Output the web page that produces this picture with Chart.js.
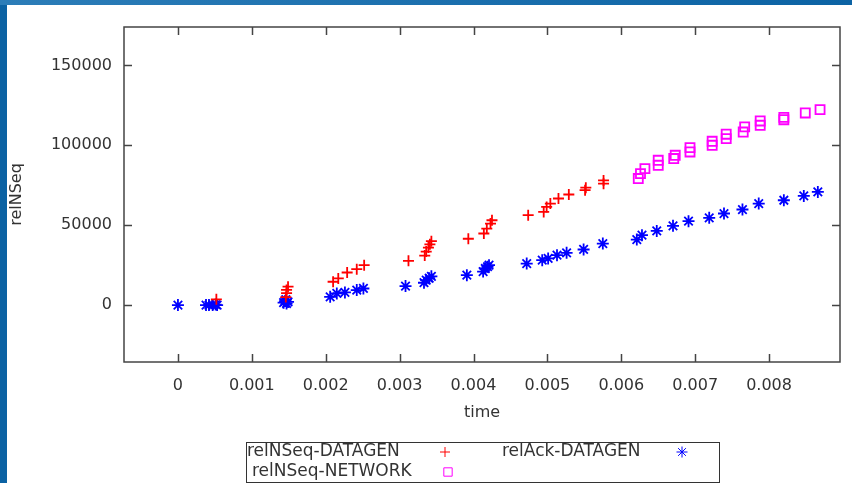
<!DOCTYPE html>
<html>
<head>
<meta charset="utf-8">
<script src="https://cdn.jsdelivr.net/npm/chart.js@4.4.1/dist/chart.umd.min.js"></script>
<style>
  html, body { margin: 0; padding: 0; }
  body {
    width: 852px; height: 483px; overflow: hidden; position: relative;
    background: linear-gradient(to right, #2c7db8, #0c63a4);
  }
  #wrap {
    position: absolute; left: 7px; top: 5px; width: 845px; height: 478px; background: #fff;
  }
  #wrap::before {
    content: ''; position: absolute; left: -7px; top: 0; width: 7px; height: 478px; background: #0b62a3;
  }
</style>
</head>
<body>
<div id="wrap"><canvas id="c" width="845" height="478"></canvas></div>
<script>
// relNSeq-DATAGEN
const seqTime = [0.00052, 0.00146, 0.00147, 0.00147, 0.00149, 0.00210, 0.00217, 0.00229, 0.00242, 0.00252,
  0.00312, 0.00334, 0.00336, 0.00339, 0.00341, 0.00343, 0.00393, 0.00414, 0.00418, 0.00423, 0.00425,
  0.00474, 0.00495, 0.00499, 0.00504, 0.00515, 0.00529, 0.00551, 0.00552, 0.00576, 0.00576];
const seqVal = [3600, 5000, 7500, 9500, 11500, 14600, 16700, 20400, 22500, 25000,
  27700, 31000, 33500, 36000, 38000, 40000, 41500, 44800, 47900, 51000, 53100,
  56250, 58300, 61400, 63500, 66700, 69200, 71900, 73500, 76000, 78000];

// relAck-DATAGEN
const ackTime = [0, 0.00038, 0.00042, 0.00047, 0.00051, 0.00053, 0.00143, 0.00145, 0.00146, 0.00147, 0.00149,
  0.00206, 0.00215, 0.00226, 0.00242, 0.00251, 0.00308, 0.00333, 0.00336, 0.00340, 0.00343,
  0.00391, 0.00413, 0.00416, 0.00419, 0.00421, 0.00472, 0.00493, 0.00501, 0.00513, 0.00526,
  0.00549, 0.00575, 0.00621, 0.00628, 0.00648, 0.00670, 0.00691, 0.00719, 0.00739, 0.00764,
  0.00786, 0.00820, 0.00847, 0.00866];
const ackVal = [0, 0, 0, 0, 300, 0, 1500, 2500, 3500, 1000, 2000,
  5200, 7300, 7900, 9400, 10400, 11900, 14000, 15600, 16800, 18000,
  18750, 21000, 22900, 24000, 25000, 26000, 28100, 29200, 31250, 32700,
  34800, 38500, 41000, 43750, 46400, 49600, 52500, 54600, 57300, 59800,
  63500, 65600, 68300, 70800];

// relNSeq-NETWORK
const netTime = [0.00623, 0.00626, 0.00632, 0.00650, 0.00650, 0.00671, 0.00673, 0.00693, 0.00693, 0.00723,
  0.00723, 0.00742, 0.00742, 0.00765, 0.00767, 0.00788, 0.00788, 0.00820, 0.00820, 0.00849, 0.00869];
const netVal = [79200, 82300, 85400, 87500, 90600, 91700, 93750, 95800, 98500, 100000,
  102500, 104200, 106900, 108300, 111500, 112500, 115200, 116000, 117500, 120200, 122300];

const seriesNames = ['relNSeq-DATAGEN', 'relAck-DATAGEN', 'relNSeq-NETWORK'];
const xTicks = [0, 0.001, 0.002, 0.003, 0.004, 0.005, 0.006, 0.007, 0.008];
const yTicks = [0, 50000, 100000, 150000];

const pts = (xs, ys) => xs.map((x, i) => ({ x: x, y: ys[i] }));
const font = { family: 'DejaVu Sans', size: 16 };
const textColor = '#333';

// gnuplot style frame with inward ticks on all four sides, plus the boxed key
const framePlugin = {
  id: 'frame',
  afterDraw(chart) {
    const { ctx, chartArea: a, scales: { x, y } } = chart;
    ctx.save();
    ctx.strokeStyle = '#444';
    ctx.lineWidth = 1.5;
    ctx.strokeRect(a.left, a.top, a.right - a.left, a.bottom - a.top);
    ctx.beginPath();
    x.ticks.forEach(t => {
      const px = Math.round(x.getPixelForValue(t.value)) + 0.5;
      ctx.moveTo(px, a.bottom); ctx.lineTo(px, a.bottom - 8);
      ctx.moveTo(px, a.top); ctx.lineTo(px, a.top + 8);
    });
    y.ticks.forEach(t => {
      const py = Math.round(y.getPixelForValue(t.value)) + 0.5;
      ctx.moveTo(a.left, py); ctx.lineTo(a.left + 8, py);
      ctx.moveTo(a.right, py); ctx.lineTo(a.right - 8, py);
    });
    ctx.stroke();

    // key
    ctx.lineWidth = 1;
    ctx.strokeStyle = '#333';
    ctx.strokeRect(239.5, 437.5, 473, 40);
    ctx.font = '17px "DejaVu Sans"';
    ctx.fillStyle = textColor;
    ctx.textBaseline = 'middle';
    const key = [
      { ds: 0, tx: 240, ty: 447, sx: 438, sy: 447 },
      { ds: 1, tx: 495, ty: 447, sx: 675, sy: 447 },
      { ds: 2, tx: 245, ty: 467, sx: 441, sy: 467 }
    ];
    key.forEach(k => {
      const ds = chart.data.datasets[k.ds];
      ctx.fillText(ds.label, k.tx, k.ty);
      ctx.strokeStyle = ds.borderColor;
      ctx.fillStyle = 'rgba(0,0,0,0)';
      Chart.helpers.drawPoint(ctx, { pointStyle: ds.pointStyle, radius: ds.pointRadius - 0.5, rotation: 0, borderWidth: ds.borderWidth }, k.sx, k.sy);
      ctx.fillStyle = textColor;
    });
    ctx.restore();
  }
};

new Chart(document.getElementById('c'), {
  type: 'scatter',
  data: {
    datasets: [
      { label: seriesNames[0], data: pts(seqTime, seqVal), pointStyle: 'cross', pointRadius: 5.5,
        borderColor: '#ff0000', backgroundColor: 'rgba(0,0,0,0)', borderWidth: 1.8 },
      { label: seriesNames[1], data: pts(ackTime, ackVal), pointStyle: 'star', pointRadius: 6,
        borderColor: '#0000ff', backgroundColor: 'rgba(0,0,0,0)', borderWidth: 1.8 },
      { label: seriesNames[2], data: pts(netTime, netVal), pointStyle: 'rect', pointRadius: 6.4,
        borderColor: '#ff00ff', backgroundColor: 'rgba(0,0,0,0)', borderWidth: 1.8 }
    ]
  },
  options: {
    responsive: false,
    devicePixelRatio: 1,
    animation: false,
    layout: { padding: { left: 0, right: 12, top: 22, bottom: 53 } },
    plugins: { legend: { display: false }, tooltip: { enabled: false } },
    scales: {
      x: {
        type: 'linear', min: -0.00073, max: 0.00896,
        grid: { display: false }, border: { display: false },
        afterBuildTicks: s => { s.ticks = xTicks.map(v => ({ value: v })); },
        ticks: {
          padding: 6, maxRotation: 0, autoSkip: false,
          font: font, color: textColor,
          callback: v => (Math.abs(v) < 1e-12 ? '0' : v.toFixed(3))
        },
        title: { display: true, text: 'time', font: font, color: textColor, padding: { top: 0, bottom: 8 } },
        afterFit: s => { s.height = 68; }
      },
      y: {
        type: 'linear', min: -35600, max: 174000,
        grid: { display: false }, border: { display: false },
        afterBuildTicks: s => { s.ticks = yTicks.map(v => ({ value: v })); },
        ticks: {
          padding: 4, autoSkip: false, font: font, color: textColor,
          callback: v => String(Math.round(v))
        },
        title: { display: true, text: 'relNSeq', font: font, color: textColor, padding: { top: 0, bottom: 0 } },
        afterFit: s => { s.width = 117; }
      }
    }
  },
  plugins: [framePlugin]
});
</script>
</body>
</html>
